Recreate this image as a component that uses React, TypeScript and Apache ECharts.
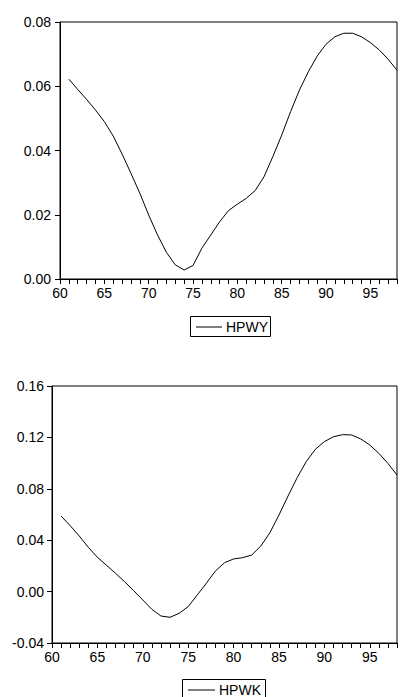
import React, { useEffect, useRef } from "react";
import * as echarts from "echarts";

const years = [61,62,63,64,65,66,67,68,69,70,71,72,73,74,75,76,77,78,79,80,81,82,83,84,85,86,87,88,89,90,91,92,93,94,95,96,97,98];

const hpwy = [0.0622,0.0590,0.0559,0.0526,0.0490,0.0445,0.0389,0.0329,0.0267,0.0199,0.0137,0.0083,0.0044,0.0028,0.0042,0.0096,0.0137,0.0178,0.0213,0.0233,0.0251,0.0275,0.0318,0.0381,0.0448,0.0521,0.0588,0.0645,0.0694,0.0731,0.0754,0.0765,0.0765,0.0754,0.0736,0.0713,0.0684,0.0650];

const hpwk = [0.0588,0.0513,0.0433,0.0345,0.0267,0.0205,0.0142,0.0077,0.0007,-0.0065,-0.0138,-0.0190,-0.0200,-0.0169,-0.0117,-0.0026,0.0065,0.0160,0.0225,0.0254,0.0264,0.0285,0.0355,0.0458,0.0596,0.0744,0.0886,0.1011,0.1107,0.1167,0.1205,0.1221,0.1219,0.1188,0.1141,0.1076,0.0998,0.0907];

const yTicks1 = { min: 0, max: 0.08, interval: 0.02 };
const yTicks2 = { min: -0.04, max: 0.16, interval: 0.04 };
const xRange = { min: 60, max: 98, interval: 1, labelEvery: 5 };

const FONT = 'Arial, "Liberation Sans", sans-serif';

export default function App() {
  const ref = useRef<HTMLDivElement>(null);
  useEffect(() => {
    if (!ref.current) return;
    const chart = echarts.init(ref.current, undefined, { renderer: "svg" });
    const xAxisBase = (gridIndex: number) => ({
      type: "value",
      gridIndex,
      min: xRange.min,
      max: xRange.max,
      interval: xRange.interval,
      axisLine: { show: true, onZero: false, lineStyle: { color: "#000", width: 1 } },
      axisTick: { show: true, inside: false, length: 5, lineStyle: { color: "#000" } },
      axisLabel: {
        color: "#000",
        fontSize: 14,
        fontFamily: FONT,
        margin: 7,
        formatter: (v: number) => (v % xRange.labelEvery === 0 ? String(v) : ""),
      },
      splitLine: { show: false },
    });
    const yAxisBase = (gridIndex: number, t: { min: number; max: number; interval: number }, margin: number) => ({
      type: "value",
      gridIndex,
      min: t.min,
      max: t.max,
      interval: t.interval,
      axisLine: { show: true, onZero: false, lineStyle: { color: "#000", width: 1 } },
      axisTick: { show: true, inside: false, length: 5, lineStyle: { color: "#000" } },
      axisLabel: {
        color: "#000",
        fontSize: 14,
        fontFamily: FONT,
        margin,
        formatter: (v: number) => v.toFixed(2),
      },
      splitLine: { show: false },
    });
    chart.setOption({
      animation: false,
      backgroundColor: "#fff",
      grid: [
        { left: 60, top: 22, width: 342, height: 257, show: true, borderColor: "#000", borderWidth: 1, backgroundColor: "transparent" },
        { left: 52, top: 386, width: 345, height: 257, show: true, borderColor: "#000", borderWidth: 1, backgroundColor: "transparent" },
      ],
      xAxis: [xAxisBase(0), xAxisBase(1)],
      yAxis: [yAxisBase(0, yTicks1, 9), yAxisBase(1, yTicks2, 8)],
      series: [
        {
          name: "HPWY",
          type: "line",
          xAxisIndex: 0,
          yAxisIndex: 0,
          data: years.map((y, i) => [y, hpwy[i]]),
          symbol: "none",
          lineStyle: { color: "#000", width: 1 },
        },
        {
          name: "HPWK",
          type: "line",
          xAxisIndex: 1,
          yAxisIndex: 1,
          data: years.map((y, i) => [y, hpwk[i]]),
          symbol: "none",
          lineStyle: { color: "#000", width: 1 },
        },
      ],
      graphic: [
        {
          type: "group",
          children: [
            { type: "rect", shape: { x: 190.5, y: 316.5, width: 80, height: 20 }, style: { fill: "#fff", stroke: "#000", lineWidth: 1 } },
            { type: "line", shape: { x1: 196, y1: 327, x2: 222, y2: 327 }, style: { stroke: "#000", lineWidth: 1 } },
            { type: "text", x: 226, y: 327, style: { text: "HPWY", fill: "#000", font: `14px ${FONT}`, verticalAlign: "middle", align: "left" } },
          ],
        },
        {
          type: "group",
          children: [
            { type: "rect", shape: { x: 182.5, y: 679.5, width: 83, height: 20 }, style: { fill: "#fff", stroke: "#000", lineWidth: 1 } },
            { type: "line", shape: { x1: 188, y1: 690, x2: 215, y2: 690 }, style: { stroke: "#000", lineWidth: 1 } },
            { type: "text", x: 219, y: 690, style: { text: "HPWK", fill: "#000", font: `14px ${FONT}`, verticalAlign: "middle", align: "left" } },
          ],
        },
      ],
    });
    return () => chart.dispose();
  }, []);
  return <div ref={ref} style={{ position: "absolute", left: 0, top: 0, width: 400, height: 697 }} />;
}
